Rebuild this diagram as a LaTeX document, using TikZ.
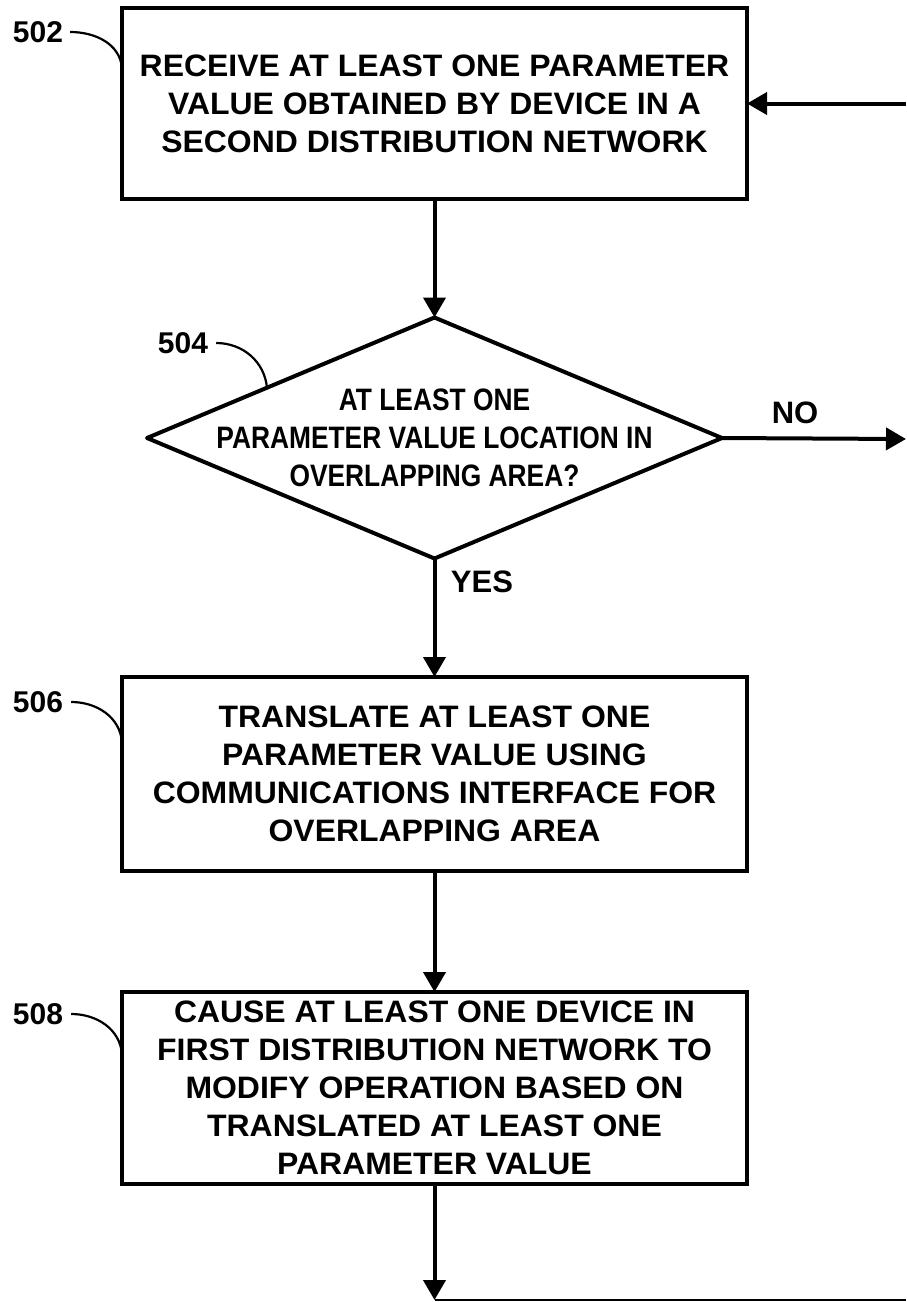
\documentclass[tikz,border=0pt]{standalone}
\usepackage{fontspec}
\setmainfont{Liberation Sans}
\newfontfamily\boxfont[FakeStretch=1.03]{Liberation Sans}
\newfontfamily\diafont[FakeStretch=0.85]{Liberation Sans}
\usetikzlibrary{arrows.meta,shapes.geometric}
\begin{document}
\begin{tikzpicture}[x=1pt,y=-1pt,
  stepbox/.style={draw,line width=4pt,rectangle,minimum width=625pt,inner sep=0pt,outer sep=0pt,
     align=center,font=\boxfont\bfseries\fontsize{31}{38}\selectfont},
  decbox/.style={draw,line width=4pt,diamond,line join=round,minimum width=575pt,minimum height=241pt,
     inner sep=0pt,outer sep=0pt},
  dectext/.style={align=center,font=\diafont\bfseries\fontsize{31}{38}\selectfont},
  reflabel/.style={font=\bfseries\fontsize{30}{34}\selectfont,inner sep=0pt},
  flowlabel/.style={font=\bfseries\fontsize{31}{34}\selectfont,inner sep=0pt},
  leader/.style={line width=2.2pt},
  flow/.style={line width=4pt,-{Triangle[length=20pt,width=22pt]}},
]
\useasboundingbox (0,0) rectangle (906,1302);

\node[stepbox,minimum height=191pt] (b502) at (434.5,103.5)
  {RECEIVE AT LEAST ONE PARAMETER\\VALUE OBTAINED BY DEVICE IN A\\SECOND DISTRIBUTION NETWORK};
\node[decbox] (d504) at (434.5,438) {};
\node[dectext] (t504) at (d504.center)
  {AT LEAST ONE\\PARAMETER VALUE LOCATION IN\\OVERLAPPING AREA?};
\node[stepbox,minimum height=194pt] (b506) at (434.5,774)
  {TRANSLATE AT LEAST ONE\\PARAMETER VALUE USING\\COMMUNICATIONS INTERFACE FOR\\OVERLAPPING AREA};
\node[stepbox,minimum height=192pt] (b508) at (434.5,1088)
  {CAUSE AT LEAST ONE DEVICE IN\\FIRST DISTRIBUTION NETWORK TO\\MODIFY OPERATION BASED ON\\TRANSLATED AT LEAST ONE\\PARAMETER VALUE};

% reference labels
\node[reflabel] (l502) at (38,32) {502};
\node[reflabel] (l504) at (183,343) {504};
\node[reflabel] (l506) at (38,702) {506};
\node[reflabel] (l508) at (38,1014) {508};
\coordinate (e502) at (122,68);
\coordinate (e504) at (267,388);
\coordinate (e506) at (122,742);
\coordinate (e508) at (122,1054);
\draw[leader] ([xshift=7pt]l502.east) to[out=0,in=95] (e502);
\draw[leader] ([xshift=8pt]l504.east) to[out=0,in=95] (e504);
\draw[leader] ([xshift=8pt]l506.east) to[out=0,in=95] (e506);
\draw[leader] ([xshift=8pt]l508.east) to[out=0,in=95] (e508);

% flow labels
\node[flowlabel] (yes) at (482,582) {YES};
\node[flowlabel] (no) at (795,413) {NO};

% connectors
\coordinate (inR) at (906,103.5);
\coordinate (outR) at (906,439);
\coordinate (outB) at (434.5,1300);
\coordinate (endB) at (906,1300);
\draw[flow] (inR) -- (b502.east);
\draw[flow] (b502.south) -- (d504.north);
\draw[flow] (d504.east) -- (outR);
\draw[flow] (d504.south) -- (b506.north);
\draw[flow] (b506.south) -- (b508.north);
\draw[flow] (b508.south) -- (outB);
\draw[line width=1.5pt] (outB) -- (endB);
\end{tikzpicture}
\end{document}
